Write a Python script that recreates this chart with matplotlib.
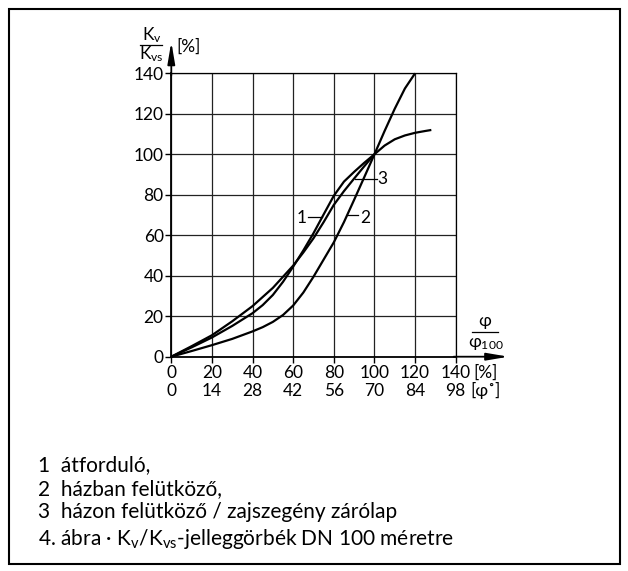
import matplotlib
matplotlib.use("Agg")
import matplotlib.pyplot as plt
from matplotlib.patches import Rectangle

plt.rcParams['font.family'] = ['Lato', 'DejaVu Sans']
plt.rcParams['mathtext.fontset'] = 'custom'
plt.rcParams['mathtext.rm'] = 'Lato'
plt.rcParams['mathtext.it'] = 'Lato:italic'

# ---- data ----
x1 = [0, 10, 20, 30, 40, 45, 50, 55, 60, 65, 70, 75, 80, 85, 90, 95, 100, 105, 110, 115, 120, 125, 128]
y1 = [0, 4.6, 9.5, 15.2, 21.5, 25.5, 30.5, 37, 44.5, 52.5, 61, 70.3, 79.5, 86.5, 91.3, 95.8, 100,
      104.3, 107.4, 109.3, 110.6, 111.5, 112]

x2 = [0, 10, 20, 30, 40, 45, 50, 55, 60, 65, 70, 75, 80, 85, 90, 95, 100, 105, 110, 115, 120]
y2 = [0, 2.8, 5.7, 8.8, 12.5, 14.6, 17.2, 20.6, 25.3, 31.7, 39.5, 48, 56.5, 66.5, 77.5, 88.7, 100,
      111.5, 122.5, 132.5, 140]

x3 = [0, 10, 20, 30, 40, 50, 55, 60, 65, 70, 75, 80, 85, 90, 95, 100]
y3 = [0, 5.2, 10.6, 17.5, 25, 34, 39.5, 45, 51.5, 58.5, 66.5, 75, 81.8, 88, 94.1, 100]

pct_ticks = [0, 20, 40, 60, 80, 100, 120, 140]
deg_labels = ['0', '14', '28', '42', '56', '70', '84', '98']
y_ticks = [0, 20, 40, 60, 80, 100, 120, 140]

legend_lines = [
    "1  átforduló,",
    "2  házban felütköző,",
    "3  házon felütköző / zajszegény zárólap",
]
caption = r"4. ábra · K$_\mathrm{v}$/K$_\mathrm{vs}$-jelleggörbék DN 100 méretre"

W, H = 628, 571
fig = plt.figure(figsize=(W / 100, H / 100), dpi=100)

# frame around the whole figure
fig.patches.append(Rectangle((9 / W, 1 - 564 / H), (620 - 9) / W, (564 - 9) / H,
                             transform=fig.transFigure, fill=False,
                             edgecolor='black', linewidth=1.5))

ax_l, ax_r = 171.3, 455.7
ax_b, ax_t = 356.7, 73.3
ax = fig.add_axes([ax_l / W, 1 - ax_b / H, (ax_r - ax_l) / W, (ax_b - ax_t) / H])
ax.set_xlim(0, 140)
ax.set_ylim(0, 140)

fs = 12.5
ax.set_xticks(pct_ticks)
ax.set_yticks(y_ticks)
ax.set_xticklabels([])
ax.tick_params(axis='both', direction='out', length=4, width=1, color='black',
               labelsize=fs, pad=1.5)
ax.grid(True, color='#222222', linewidth=0.9)
for s in ax.spines.values():
    s.set_color('black')
    s.set_linewidth(0.9)
ax.spines['left'].set_linewidth(1.3)
ax.spines['bottom'].set_linewidth(1.3)
ax.set_axisbelow(True)

lw = 1.6
for xs, ys_ in ((x1, y1), (x2, y2), (x3, y3)):
    ax.plot(xs, ys_, color='black', lw=lw, solid_capstyle='butt',
            solid_joinstyle='round', clip_on=False)

# axis arrows
ax.annotate('', xy=(166.0, 0), xytext=(139, 0), annotation_clip=False,
            arrowprops=dict(arrowstyle='-|>,head_length=1.3,head_width=0.22',
                            color='black', lw=1.3, shrinkA=0, shrinkB=0))
ax.annotate('', xy=(0, 155.5), xytext=(0, 139), annotation_clip=False,
            arrowprops=dict(arrowstyle='-|>,head_length=1.3,head_width=0.22',
                            color='black', lw=1.3, shrinkA=0, shrinkB=0))

# x tick label rows
for v, d in zip(pct_ticks, deg_labels):
    ax.text(v, -8.0, str(v), ha='center', va='center', fontsize=fs, clip_on=False)
    ax.text(v, -16.9, d, ha='center', va='center', fontsize=fs, clip_on=False)
ax.text(154.6, -8.0, '[%]', ha='center', va='center', fontsize=fs, clip_on=False)
ax.text(154.6, -16.9, '[φ˚]', ha='center', va='center', fontsize=fs, clip_on=False)

# x axis fraction label
ax.text(154.4, 17.6, 'φ', ha='center', va='center', fontsize=fs, clip_on=False)
ax.plot([147.9, 161.0], [12.35, 12.35], color='black', lw=0.9, clip_on=False)
ax.text(154.6, 6.3, r'φ$_\mathrm{100}$', ha='center', va='center', fontsize=fs, clip_on=False)

# y axis fraction label
ax.text(-9.6, 158.6, r'K$_\mathrm{v}$', ha='center', va='center', fontsize=fs, clip_on=False)
ax.plot([-15.2, -4.4], [154.0, 154.0], color='black', lw=0.9, clip_on=False)
ax.text(-9.6, 149.6, r'K$_\mathrm{vs}$', ha='center', va='center', fontsize=fs, clip_on=False)
ax.text(8.6, 153.0, '[%]', ha='center', va='center', fontsize=fs, clip_on=False)

# curve labels with leaders
ax.plot([67.5, 74.0], [69.2, 69.2], color='black', lw=0.9)
ax.text(64.2, 68.4, '1', ha='center', va='center', fontsize=fs)
ax.plot([86.3, 92.0], [70.0, 70.0], color='black', lw=0.9)
ax.text(95.4, 68.4, '2', ha='center', va='center', fontsize=fs)
ax.plot([90.4, 101.4], [87.6, 87.6], color='black', lw=0.9)
ax.text(103.9, 87.6, '3', ha='center', va='center', fontsize=fs)

# legend text
ys = [465, 489, 512]
for t, yy in zip(legend_lines, ys):
    fig.text(38 / W, 1 - yy / H, t, ha='left', va='center', fontsize=15)
fig.text(38 / W, 1 - 539 / H, caption, ha='left', va='center', fontsize=15)

fig.savefig('out.png', dpi=100)
